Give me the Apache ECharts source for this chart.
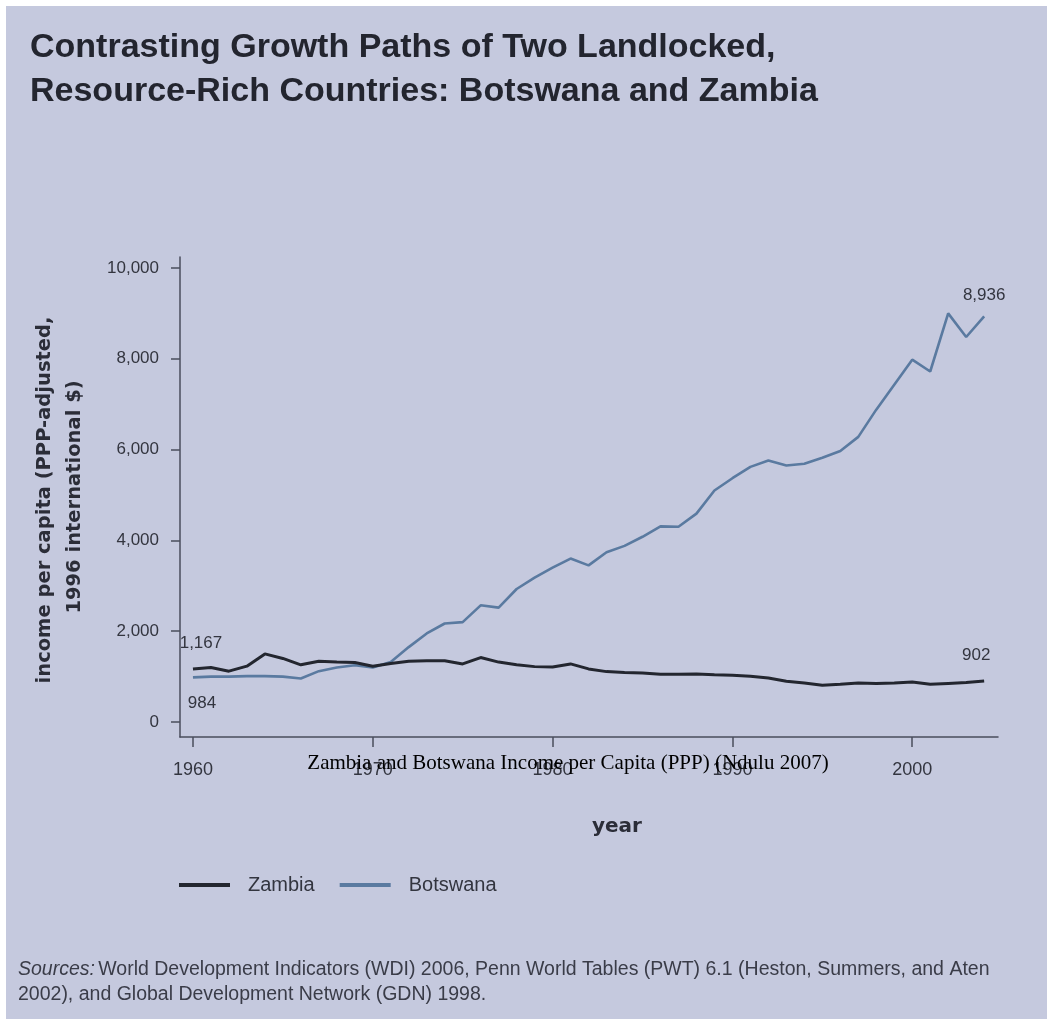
<!DOCTYPE html>
<html>
<head>
<meta charset="utf-8">
<script src="https://cdn.jsdelivr.net/npm/echarts@6/dist/echarts.min.js"></script>
<style>
html,body{margin:0;padding:0;background:#ffffff;}
#chart{width:1047px;height:1019px;}
</style>
</head>
<body>
<div id="chart"></div>
<script>
// ---- data ----
var years = [1960,1961,1962,1963,1964,1965,1966,1967,1968,1969,
             1970,1971,1972,1973,1974,1975,1976,1977,1978,1979,
             1980,1981,1982,1983,1984,1985,1986,1987,1988,1989,
             1990,1991,1992,1993,1994,1995,1996,1997,1998,1999,
             2000,2001,2002,2003,2004];
var zambia = [1167,1200,1120,1230,1500,1400,1260,1340,1320,1310,
              1230,1290,1340,1350,1350,1280,1420,1320,1260,1220,
              1210,1280,1170,1110,1090,1080,1050,1050,1060,1040,
              1030,1010,970,900,860,810,830,860,850,860,
              880,830,850,870,902];
var botswana = [984,1000,1000,1010,1010,1000,960,1120,1200,1250,
                1200,1320,1650,1950,2170,2200,2570,2520,2930,3180,
                3400,3600,3450,3740,3880,4080,4310,4300,4590,5100,
                5370,5620,5760,5650,5690,5820,5970,6280,6880,7430,
                7980,7720,9000,8480,8936];
var yTicks = [0,2000,4000,6000,8000,10000];
var xTicks = [1960,1970,1980,1990,2000];
var seriesNames = ['Zambia','Botswana'];
var titleLines = ['Contrasting Growth Paths of Two Landlocked,','Resource-Rich Countries: Botswana and Zambia'];
var yTitleLines = ['income per capita (PPP-adjusted,','1996 international $)'];
var xTitle = 'year';
var caption = 'Zambia and Botswana Income per Capita (PPP) (Ndulu 2007)';
var sourceLead = 'Sources:';
var sourceLine1 = 'World Development Indicators (WDI) 2006, Penn World Tables (PWT) 6.1 (Heston, Summers, and Aten';
var sourceLine2 = '2002), and Global Development Network (GDN) 1998.';

function fmt(v){ return String(v).replace(/\B(?=(\d{3})+(?!\d))/g, ','); }

var BG = '#c5c9de';
var INK = '#2b2d38';
var TXT = '#33353f';
var ZCOL = '#23262f';
var BCOL = '#5a7aa0';

function buildData(vals, labelIdx){
  return years.map(function(y,i){
    var item = {value:[y, vals[i]]};
    if (labelIdx[i]) item.label = Object.assign({show:true}, labelIdx[i]);
    return item;
  });
}
var lastI = years.length - 1;
var zLabels = {}; zLabels[0] = {position:'top', distance:17, offset:[8,0]}; zLabels[lastI] = {position:'top', distance:17, offset:[-8,0]};
var bLabels = {}; bLabels[0] = {position:'bottom', distance:17, offset:[9,0]}; bLabels[lastI] = {position:'top', distance:12};

var labelStyle = {
  show:false,
  fontFamily:'Liberation Sans', fontSize:17, color:TXT,
  formatter:function(p){ return fmt(p.value[1]); }
};

var chart = echarts.init(document.getElementById('chart'), null, {renderer:'canvas'});
chart.setOption({
  backgroundColor: BG,
  animation:false,
  title:{
    text: titleLines.join('\n'),
    left:25, top:21,
    textStyle:{fontFamily:'Liberation Sans', fontWeight:'bold', fontSize:34, lineHeight:44, color:'#23252f'}
  },
  grid:{left:180, top:257, width:818, height:480, containLabel:false},
  xAxis:{
    type:'value', min:1959.28, max:2004.77,
    axisLine:{show:true, onZero:false, lineStyle:{color:'#4a4d5c', width:1.5}},
    axisTick:{show:true, length:10, inside:false, customValues:xTicks, lineStyle:{color:'#4a4d5c', width:1.5}},
    axisLabel:{customValues:xTicks, margin:24, fontFamily:'Liberation Sans', fontSize:18, color:TXT,
               formatter:function(v){return String(v);}},
    splitLine:{show:false}
  },
  yAxis:{
    type:'value', min:-330, max:10242,
    axisLine:{show:true, onZero:false, lineStyle:{color:'#4a4d5c', width:1.5}},
    axisTick:{show:true, length:9, inside:false, customValues:yTicks, lineStyle:{color:'#4a4d5c', width:1.5}},
    axisLabel:{customValues:yTicks, margin:21, fontFamily:'Liberation Sans', fontSize:17, color:TXT,
               formatter:function(v){return fmt(v);}},
    splitLine:{show:false}
  },
  legend:{
    left:174, top:870, itemWidth:51, itemHeight:4, itemGap:25, icon:'rect',
    textStyle:{fontFamily:'Liberation Sans', fontSize:20, color:TXT, padding:[0,0,0,13]},
    data:[{name:seriesNames[0], itemStyle:{color:ZCOL}}, {name:seriesNames[1], itemStyle:{color:BCOL}}]
  },
  series:[
    {name:seriesNames[0], type:'line', data:buildData(zambia, zLabels), symbol:'circle', symbolSize:0, showSymbol:true,
     lineStyle:{color:ZCOL, width:3}, itemStyle:{color:ZCOL}, label:labelStyle, z:3},
    {name:seriesNames[1], type:'line', data:buildData(botswana, bLabels), symbol:'circle', symbolSize:0, showSymbol:true,
     lineStyle:{color:BCOL, width:2.6}, itemStyle:{color:BCOL}, label:labelStyle, z:2}
  ],
  graphic:[
    {type:'rect', left:0, top:0, shape:{width:1047, height:6}, style:{fill:'#ffffff'}, z:100},
    {type:'rect', left:0, top:0, shape:{width:6, height:1019}, style:{fill:'#ffffff'}, z:100},
    {type:'text', x:45, y:500, rotation:Math.PI/2, style:{text:yTitleLines[0], font:'bold 19.5px "DejaVu Sans"', fill:INK, textAlign:'center', textVerticalAlign:'middle'}},
    {type:'text', x:75, y:497, rotation:Math.PI/2, style:{text:yTitleLines[1], font:'bold 19.5px "DejaVu Sans"', fill:INK, textAlign:'center', textVerticalAlign:'middle'}},
    {type:'text', x:617, y:827, style:{text:xTitle, font:'bold 20px "DejaVu Sans"', fill:INK, textAlign:'center', textVerticalAlign:'middle'}},
    {type:'text', x:568, y:763, style:{text:caption, font:'21px "Liberation Serif"', fill:'#000000', textAlign:'center', textVerticalAlign:'middle'}, z:50},
    {type:'text', x:18, y:970, style:{
      text:'{i|' + sourceLead + '} {n|' + sourceLine1 + '}',
      rich:{i:{fontFamily:'Liberation Sans', fontStyle:'italic', fontSize:19.5, fill:'#3a3c48'},
            n:{fontFamily:'Liberation Sans', fontSize:19.5, fill:'#3a3c48'}},
      textVerticalAlign:'middle'}},
    {type:'text', x:18, y:995, style:{text:sourceLine2, font:'19.5px "Liberation Sans"', fill:'#3a3c48', textVerticalAlign:'middle'}}
  ]
});
</script>
</body>
</html>
